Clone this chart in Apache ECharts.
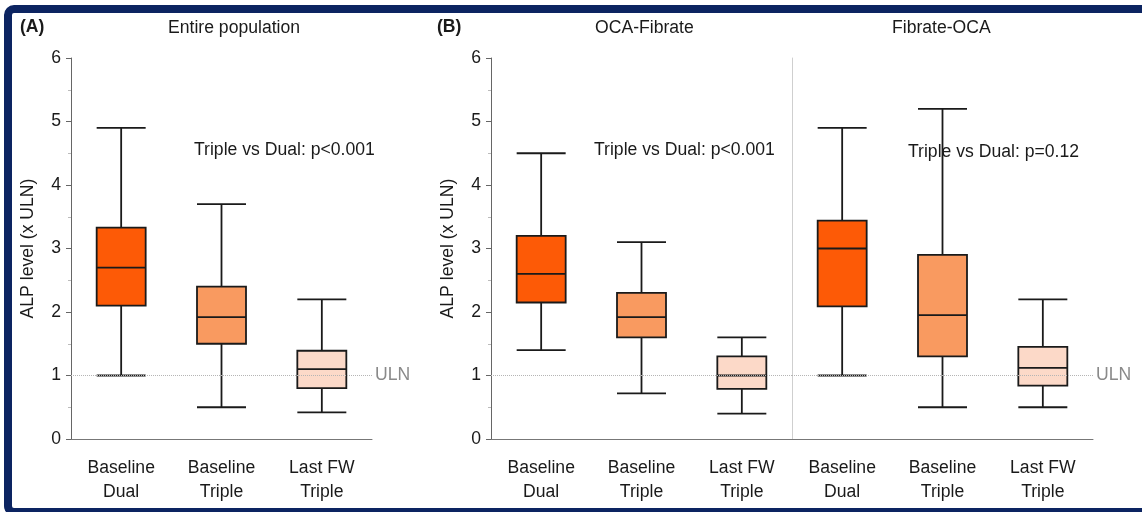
<!DOCTYPE html>
<html>
<head>
<meta charset="utf-8">
<script src="https://cdn.jsdelivr.net/npm/echarts@6/dist/echarts.min.js"></script>
<style>
  html, body { margin: 0; padding: 0; background: #fff; overflow: hidden; }
  #frame {
    position: absolute; left: 4px; top: 5px; width: 1170px; height: 511px;
    box-sizing: border-box; border: 8px solid #0c2461; border-radius: 10px;
  }
  #chart { position: absolute; left: 0; top: 0; width: 1142px; height: 512px; }
</style>
</head>
<body>
<div id="frame"></div>
<div id="chart"></div>
<script>
// categories on every panel
var categories = ['Baseline\nDual', 'Baseline\nTriple', 'Last FW\nTriple'];

// [min, Q1, median, Q3, max]
var entireBox = [
  [1.0, 2.1, 2.7, 3.33, 4.9],
  [0.5, 1.5, 1.92, 2.4, 3.7],
  [0.42, 0.8, 1.1, 1.39, 2.2]
];
var ocaFibrateBox = [
  [1.4, 2.15, 2.6, 3.2, 4.5],
  [0.72, 1.6, 1.92, 2.3, 3.1],
  [0.4, 0.79, 1.0, 1.3, 1.6]
];
var fibrateOcaBox = [
  [1.0, 2.09, 3.0, 3.44, 4.9],
  [0.5, 1.3, 1.95, 2.9, 5.2],
  [0.5, 0.84, 1.12, 1.45, 2.2]
];

var boxColors = ['#fd5a06', '#f99a60', '#fcd9c8'];
var ulnLevel = 1;
var yMin = 0, yMax = 6, yStep = 1;

var FONT = '"Liberation Sans", Arial, sans-serif';
var FS = 17.6;
var TXT = '#1a1a1a';

var chart = echarts.init(document.getElementById('chart'));

function boxData(arr) {
  return arr.map(function (v, i) {
    return { value: v, itemStyle: { color: boxColors[i] } };
  });
}

function makeX(idx) {
  return {
    type: 'category',
    gridIndex: idx,
    data: categories,
    axisLine: { lineStyle: { color: '#777', width: 1 } },
    axisTick: { show: false },
    axisLabel: {
      margin: 17, fontSize: FS, lineHeight: 24, color: TXT, fontFamily: FONT,
      interval: 0
    }
  };
}

function makeY(idx, first) {
  return {
    type: 'value',
    gridIndex: idx,
    min: yMin, max: yMax, interval: yStep,
    name: first ? 'ALP level (x ULN)' : '',
    nameLocation: 'middle',
    nameGap: 34,
    nameTextStyle: { fontSize: FS, color: TXT, fontFamily: FONT },
    axisLine: { show: true, lineStyle: { color: first ? '#666' : '#cfcfcf', width: 1 } },
    axisTick: { show: first, length: 5, lineStyle: { color: '#666' } },
    minorTick: { show: first, splitNumber: 2, length: 3, lineStyle: { color: '#bbb' } },
    axisLabel: { show: first, margin: 10, fontSize: FS, color: TXT, fontFamily: FONT },
    splitLine: { show: false }
  };
}

function ulnLine(withLabel) {
  return {
    silent: true,
    symbol: 'none',
    lineStyle: { type: 'dotted', color: '#b5b5b5', width: 1 },
    label: {
      show: withLabel, position: 'end', formatter: 'ULN', distance: 3,
      fontSize: FS, color: '#8a8a8a', fontFamily: FONT
    },
    data: [{ yAxis: ulnLevel }]
  };
}

function makeBox(idx, arr, withLabel) {
  return {
    type: 'boxplot',
    xAxisIndex: idx,
    yAxisIndex: idx,
    boxWidth: [49, 49],
    itemStyle: { borderColor: '#1a1a1a', borderWidth: 1.8 },
    data: boxData(arr),
    markLine: ulnLine(withLabel),
    z: 3
  };
}

function txt(text, left, top, bold) {
  return {
    text: text, left: left, top: top, padding: 0, z: 1,
    textStyle: { fontSize: FS, fontWeight: bold ? 'bold' : 'normal', color: TXT, fontFamily: FONT }
  };
}

var option = {
  animation: false,
  title: [
    txt('(A)', 20, 18, true),
    txt('Entire population', 168, 19),
    txt('(B)', 437, 18, true),
    txt('OCA-Fibrate', 595, 19),
    txt('Fibrate-OCA', 892, 19),
    txt('Triple vs Dual: p<0.001', 194, 141),
    txt('Triple vs Dual: p<0.001', 594, 141),
    txt('Triple vs Dual: p=0.12', 908, 143)
  ],
  grid: [
    { left: 71, top: 58, width: 301, height: 381 },
    { left: 491, top: 58, width: 301, height: 381 },
    { left: 792, top: 58, width: 301, height: 381 }
  ],
  xAxis: [makeX(0), makeX(1), makeX(2)],
  yAxis: [makeY(0, true), makeY(1, true), makeY(2, false)],
  series: [
    makeBox(0, entireBox, true),
    makeBox(1, ocaFibrateBox, false),
    makeBox(2, fibrateOcaBox, true)
  ]
};

chart.setOption(option);
</script>
</body>
</html>
